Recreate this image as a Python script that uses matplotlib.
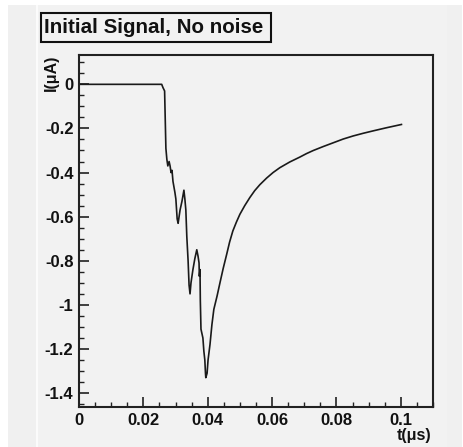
import matplotlib
matplotlib.use("Agg")
import matplotlib.pyplot as plt
from matplotlib.patches import Rectangle
from matplotlib.ticker import MultipleLocator, FixedLocator

plt.rcParams['font.family'] = ['Liberation Sans', 'DejaVu Sans']

title = "Initial Signal, No noise"
x_label = "t(\u03bcs)"
y_label = "I(\u03bcA)"

t_us = [0.0, 0.0257, 0.0261, 0.0266, 0.0270, 0.0273, 0.0276, 0.0280, 0.0283, 0.0286,
        0.0289, 0.0292, 0.0298, 0.0301, 0.0305, 0.0308, 0.0314, 0.0320, 0.0326, 0.0329,
        0.0332, 0.0335, 0.0339, 0.0342, 0.0345, 0.0348, 0.0354, 0.0360, 0.0366, 0.0370,
        0.0373, 0.0374, 0.0376, 0.0377, 0.0379, 0.0385, 0.0388, 0.0391, 0.0393, 0.0394,
        0.0398, 0.0401, 0.0407, 0.0413, 0.0419, 0.0429, 0.0438, 0.0448, 0.0459, 0.0468,
        0.0478, 0.0489, 0.0500, 0.0515, 0.0531, 0.0546, 0.0562, 0.0583, 0.0603, 0.0624,
        0.0655, 0.0686, 0.0707, 0.0728, 0.0759, 0.0790, 0.0821, 0.0852, 0.0883, 0.0914,
        0.0955, 0.1002]
i_ua = [0.0, 0.0, -0.015, -0.03, -0.29, -0.34, -0.37, -0.35, -0.37, -0.40,
        -0.39, -0.44, -0.49, -0.52, -0.61, -0.63, -0.57, -0.53, -0.48, -0.52,
        -0.57, -0.69, -0.80, -0.91, -0.95, -0.90, -0.84, -0.79, -0.75, -0.78,
        -0.81, -0.87, -0.84, -0.98, -1.11, -1.15, -1.21, -1.25, -1.31, -1.33,
        -1.31, -1.25, -1.18, -1.09, -1.02, -0.96, -0.90, -0.835, -0.77, -0.715,
        -0.665, -0.625, -0.589, -0.550, -0.513, -0.482, -0.455, -0.425, -0.400, -0.378,
        -0.352, -0.330, -0.314, -0.300, -0.282, -0.265, -0.248, -0.234, -0.222, -0.211,
        -0.197, -0.182]

x_ticks = [0, 0.02, 0.04, 0.06, 0.08, 0.1]
x_tick_labels = ["0", "0.02", "0.04", "0.06", "0.08", "0.1"]
y_ticks = [0, -0.2, -0.4, -0.6, -0.8, -1.0, -1.2, -1.4]
y_tick_labels = ["0", "-0.2", "-0.4", "-0.6", "-0.8", "-1", "-1.2", "-1.4"]

W, H = 464, 447
fig = plt.figure(figsize=(W / 100, H / 100), dpi=100)
fig.patch.set_facecolor("white")

def fx(px):
    return px / W

def fy(py):
    return 1 - py / H

# canvas background
fig.patches.append(Rectangle((fx(8), fy(447)), fx(454), 442 / H, transform=fig.transFigure,
                             facecolor="#f0f0f0", edgecolor="none", zorder=-10))
fig.patches.append(Rectangle((fx(37), fy(447)), fx(410), 442 / H, transform=fig.transFigure,
                             facecolor="#f2f2f2", edgecolor="none", zorder=-9))
fig.patches.append(Rectangle((fx(36.5), fy(447)), fx(1.2), 442 / H, transform=fig.transFigure,
                             facecolor="#fbfbfb", edgecolor="none", zorder=-8))

# axes
L, R, T, B = 79, 433, 55, 407
ax = fig.add_axes([fx(L), fy(B), fx(R - L), (B - T) / H])
ax.set_facecolor("#f2f2f2")
ax.plot(t_us, i_ua, color="#1a1a1a", lw=1.2, solid_joinstyle="round")
ax.set_xlim(0, 0.11)
ax.set_ylim(-1.463, 0.133)

ax.xaxis.set_major_locator(FixedLocator(x_ticks))
ax.set_xticklabels(x_tick_labels)
ax.yaxis.set_major_locator(FixedLocator(y_ticks))
ax.set_yticklabels(y_tick_labels)
ax.xaxis.set_minor_locator(MultipleLocator(0.005))
ax.yaxis.set_minor_locator(MultipleLocator(0.05))

ax.tick_params(which="both", direction="in", top=False, right=False, colors="#222222")
ax.tick_params(which="major", length=7, width=1.2, labelsize=12, pad=4)
ax.tick_params(which="minor", length=3.5, width=1.0)
for lab in ax.get_xticklabels() + ax.get_yticklabels():
    lab.set_fontweight("bold")
    lab.set_color("#111111")
for s in ax.spines.values():
    s.set_linewidth(1.5)
    s.set_color("#222222")

# axis labels
fig.text(fx(51), fy(55), y_label, rotation=90, ha="center", va="top",
         fontsize=11.5, fontweight="bold", color="#111111")
fig.text(fx(431), fy(443), x_label, ha="right", va="bottom",
         fontsize=11.5, fontweight="bold", color="#111111")

# title box
fig.patches.append(Rectangle((fx(41), fy(42)), fx(230), 29 / H, transform=fig.transFigure,
                             facecolor="#f2f2f2", edgecolor="#111111", lw=1.5, zorder=2))
fig.text(fx(154), fy(27.5), title, ha="center", va="center", fontsize=14.8,
         fontweight="bold", color="#111111", zorder=3)

fig.savefig("out.png", dpi=100)
